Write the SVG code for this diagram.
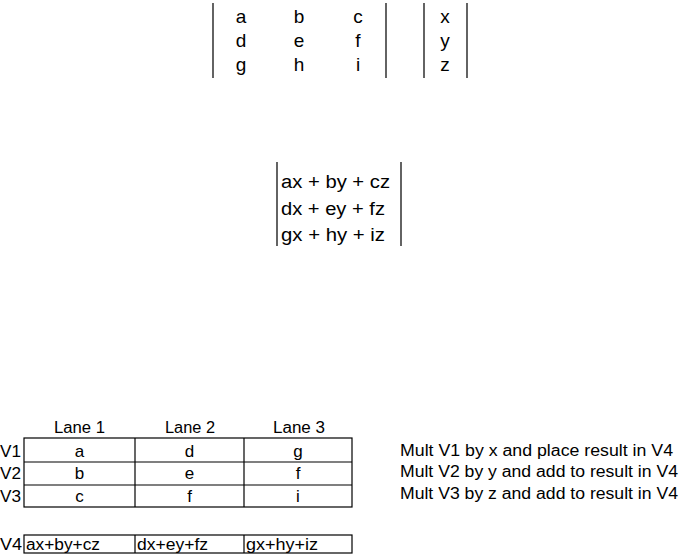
<svg xmlns="http://www.w3.org/2000/svg" width="679" height="554" viewBox="0 0 679 554">
<style>
text{font-family:"Liberation Sans",Arial,sans-serif;fill:#000}
.m{font-size:19px;text-anchor:middle}
.e{font-size:18px}
.t{font-size:16px}
.c{font-size:16px;text-anchor:middle}
.s{font-size:17px;text-anchor:middle}
.bar{stroke:#222;stroke-width:1.4;fill:none}
.cell{stroke:#000;stroke-width:1.2;fill:#fff}
</style>
<rect width="679" height="554" fill="#fff"/>
<g id="matrix">
<line class="bar" x1="213" y1="3" x2="213" y2="78"/>
<line class="bar" x1="386" y1="3" x2="386" y2="78"/>
<text class="m" x="241" y="23">a</text><text class="m" x="299" y="23">b</text><text class="m" x="358" y="23">c</text>
<text class="m" x="241" y="47">d</text><text class="m" x="299" y="47">e</text><text class="m" x="358" y="47">f</text>
<text class="m" x="241" y="71">g</text><text class="m" x="299" y="71">h</text><text class="m" x="358" y="71">i</text>
</g>
<g id="vector">
<line class="bar" x1="424" y1="3" x2="424" y2="78"/>
<line class="bar" x1="467" y1="3" x2="467" y2="78"/>
<text class="m" x="445" y="23">x</text><text class="m" x="445" y="47">y</text><text class="m" x="445" y="71">z</text>
</g>
<g id="result">
<line class="bar" x1="277" y1="162" x2="277" y2="246"/>
<line class="bar" x1="401" y1="162" x2="401" y2="246"/>
<text class="e" x="281" y="188" textLength="109" lengthAdjust="spacingAndGlyphs">ax + by + cz</text>
<text class="e" x="281" y="215" textLength="104" lengthAdjust="spacingAndGlyphs">dx + ey + fz</text>
<text class="e" x="281" y="241" textLength="104" lengthAdjust="spacingAndGlyphs">gx + hy + iz</text>
</g>
<g id="lanes">
<text class="t" x="54" y="433" textLength="51" lengthAdjust="spacingAndGlyphs">Lane 1</text>
<text class="t" x="165" y="433" textLength="50" lengthAdjust="spacingAndGlyphs">Lane 2</text>
<text class="t" x="273" y="433" textLength="52" lengthAdjust="spacingAndGlyphs">Lane 3</text>
</g>
<g id="table">
<rect class="cell" x="24" y="438" width="328" height="69"/>
<line class="cell" x1="24" y1="462" x2="352" y2="462"/>
<line class="cell" x1="24" y1="485" x2="352" y2="485"/>
<line class="cell" x1="135" y1="438" x2="135" y2="507"/>
<line class="cell" x1="244" y1="438" x2="244" y2="507"/>
<text class="t" x="0" y="456.5" textLength="21" lengthAdjust="spacingAndGlyphs">V1</text>
<text class="t" x="0" y="479" textLength="21" lengthAdjust="spacingAndGlyphs">V2</text>
<text class="t" x="0" y="501.5" textLength="21" lengthAdjust="spacingAndGlyphs">V3</text>
<text class="s" x="79.5" y="456.5">a</text><text class="s" x="189.5" y="456.5">d</text><text class="s" x="298" y="456.5">g</text>
<text class="s" x="79.5" y="479">b</text><text class="s" x="189.5" y="479">e</text><text class="s" x="298" y="479">f</text>
<text class="s" x="79.5" y="501.5">c</text><text class="s" x="189.5" y="501.5">f</text><text class="s" x="298" y="501.5">i</text>
</g>
<g id="v4">
<rect class="cell" x="24" y="535" width="328" height="18"/>
<line class="cell" x1="135" y1="535" x2="135" y2="553"/>
<line class="cell" x1="244" y1="535" x2="244" y2="553"/>
<text class="t" x="0" y="550" textLength="22" lengthAdjust="spacingAndGlyphs">V4</text>
<text class="t" x="26" y="550" textLength="74" lengthAdjust="spacingAndGlyphs">ax+by+cz</text>
<text class="t" x="137" y="550" textLength="71" lengthAdjust="spacingAndGlyphs">dx+ey+fz</text>
<text class="t" x="246" y="550" textLength="72" lengthAdjust="spacingAndGlyphs">gx+hy+iz</text>
</g>
<g id="steps">
<text class="t" x="400" y="456" textLength="273" lengthAdjust="spacingAndGlyphs">Mult V1 by x and place result in V4</text>
<text class="t" x="400" y="477" textLength="278" lengthAdjust="spacingAndGlyphs">Mult V2 by y and add to result in V4</text>
<text class="t" x="400" y="498.5" textLength="278" lengthAdjust="spacingAndGlyphs">Mult V3 by z and add to result in V4</text>
</g>
</svg>
